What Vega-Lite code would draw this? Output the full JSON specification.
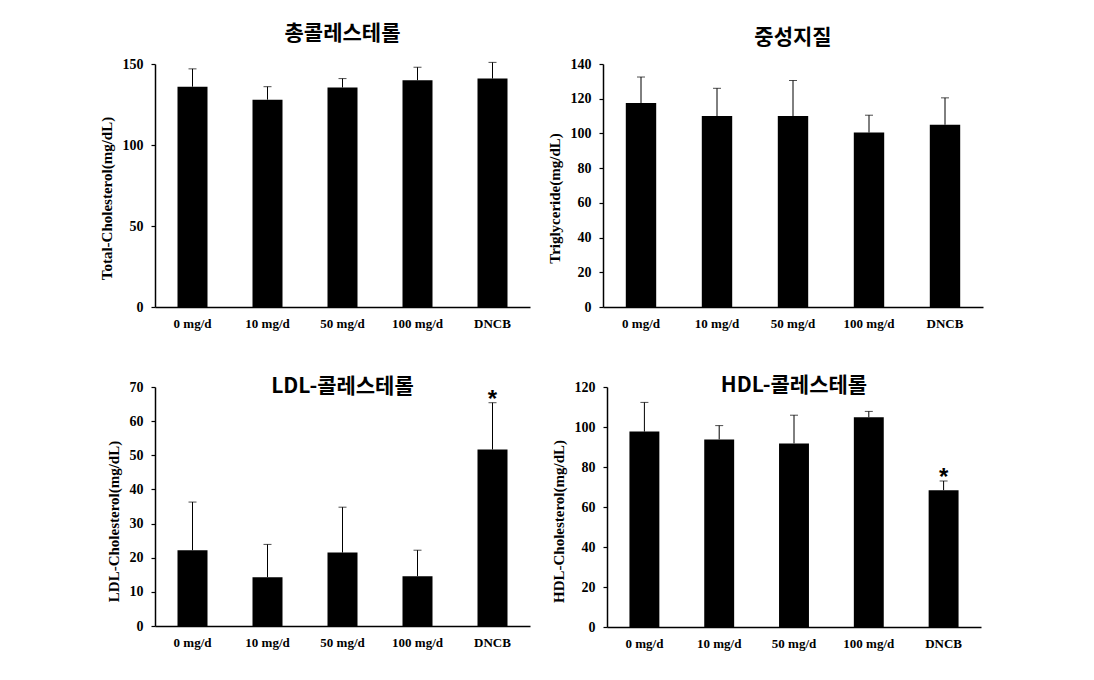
{
  "$schema": "https://vega.github.io/schema/vega-lite/v6.json",
  "padding": {"left": 99, "top": 23, "right": 10, "bottom": 10},
  "background": "white",
  "datasets": {
    "tc": [
      {"group": "0 mg/d", "mean": 136, "upper": 147},
      {"group": "10 mg/d", "mean": 128, "upper": 136},
      {"group": "50 mg/d", "mean": 135.5, "upper": 141},
      {"group": "100 mg/d", "mean": 140, "upper": 148},
      {"group": "DNCB", "mean": 141, "upper": 151}
    ],
    "tg": [
      {"group": "0 mg/d", "mean": 117.5, "upper": 132.5},
      {"group": "10 mg/d", "mean": 110, "upper": 126},
      {"group": "50 mg/d", "mean": 110, "upper": 130.5},
      {"group": "100 mg/d", "mean": 100.5, "upper": 110.5},
      {"group": "DNCB", "mean": 105, "upper": 120.5}
    ],
    "ldl": [
      {"group": "0 mg/d", "mean": 22.2, "upper": 36.3, "star": ""},
      {"group": "10 mg/d", "mean": 14.3, "upper": 23.9, "star": ""},
      {"group": "50 mg/d", "mean": 21.5, "upper": 34.8, "star": ""},
      {"group": "100 mg/d", "mean": 14.6, "upper": 22.2, "star": ""},
      {"group": "DNCB", "mean": 51.7, "upper": 65.4, "star": "*"}
    ],
    "hdl": [
      {"group": "0 mg/d", "mean": 97.7, "upper": 112.3, "star": ""},
      {"group": "10 mg/d", "mean": 93.8, "upper": 100.7, "star": ""},
      {"group": "50 mg/d", "mean": 91.8, "upper": 105.9, "star": ""},
      {"group": "100 mg/d", "mean": 104.9, "upper": 107.8, "star": ""},
      {"group": "DNCB", "mean": 68.4, "upper": 73.0, "star": "*"}
    ]
  },
  "config": {
    "view": {"stroke": null},
    "font": "Liberation Serif",
    "title": {"font": "Noto Sans CJK KR", "fontSize": 21, "fontWeight": "bold", "color": "black", "anchor": "middle"},
    "axis": {
      "domainColor": "black", "domainWidth": 1.5, "grid": false,
      "labelFont": "Liberation Serif", "labelFontWeight": "bold", "labelFontSize": 14, "labelColor": "black",
      "titleFont": "Liberation Serif", "titleFontWeight": "bold", "titleFontSize": 15, "titleColor": "black",
      "tickColor": "black"
    },
    "axisX": {"ticks": false, "labelAngle": 0, "labelPadding": 10, "labelFontSize": 13, "title": null},
    "axisY": {"tickSize": 4, "tickWidth": 1.2, "labelPadding": 8, "titlePadding": 8, "titleY": 134}
  },
  "spacing": 45,
  "vconcat": [
    {
      "spacing": 17,
      "hconcat": [
        {
          "width": 375, "height": 243,
          "title": {"text": "총콜레스테롤", "offset": 13},
          "data": {"name": "tc"},
          "encoding": {
            "x": {"field": "group", "type": "nominal", "sort": null, "scale": {"paddingInner": 0.6, "paddingOuter": 0.3}},
            "y": {"field": "mean", "type": "quantitative", "title": "Total-Cholesterol(mg/dL)", "scale": {"domain": [0, 150], "nice": false}, "axis": {"values": [0, 50, 100, 150]}}
          },
          "layer": [
            {"mark": {"type": "bar", "color": "black"}},
            {"mark": {"type": "rule", "color": "black", "strokeWidth": 1}, "encoding": {"y2": {"field": "upper"}}},
            {"mark": {"type": "tick", "color": "black", "thickness": 1, "size": 8}, "encoding": {"y": {"field": "upper", "type": "quantitative", "title": "Total-Cholesterol(mg/dL)"}}}
          ]
        },
        {
          "width": 380, "height": 243,
          "title": {"text": "중성지질", "offset": 9},
          "data": {"name": "tg"},
          "encoding": {
            "x": {"field": "group", "type": "nominal", "sort": null, "scale": {"paddingInner": 0.6, "paddingOuter": 0.3}},
            "y": {"field": "mean", "type": "quantitative", "title": "Triglyceride(mg/dL)", "scale": {"domain": [0, 140], "nice": false}, "axis": {"values": [0, 20, 40, 60, 80, 100, 120, 140]}}
          },
          "layer": [
            {"mark": {"type": "bar", "color": "black"}},
            {"mark": {"type": "rule", "color": "black", "strokeWidth": 1}, "encoding": {"y2": {"field": "upper"}}},
            {"mark": {"type": "tick", "color": "black", "thickness": 1, "size": 8}, "encoding": {"y": {"field": "upper", "type": "quantitative", "title": "Triglyceride(mg/dL)"}}}
          ]
        }
      ]
    },
    {
      "spacing": 21,
      "hconcat": [
        {
          "width": 375, "height": 239,
          "title": {"text": "LDL-콜레스테롤", "offset": -17},
          "data": {"name": "ldl"},
          "encoding": {
            "x": {"field": "group", "type": "nominal", "sort": null, "scale": {"paddingInner": 0.6, "paddingOuter": 0.3}},
            "y": {"field": "mean", "type": "quantitative", "title": "LDL-Cholesterol(mg/dL)", "scale": {"domain": [0, 70], "nice": false}, "axis": {"values": [0, 10, 20, 30, 40, 50, 60, 70]}}
          },
          "layer": [
            {"mark": {"type": "bar", "color": "black"}},
            {"mark": {"type": "rule", "color": "black", "strokeWidth": 1}, "encoding": {"y2": {"field": "upper"}}},
            {"mark": {"type": "tick", "color": "black", "thickness": 1, "size": 8}, "encoding": {"y": {"field": "upper", "type": "quantitative", "title": "LDL-Cholesterol(mg/dL)"}}},
            {"mark": {"type": "text", "color": "black", "font": "Liberation Sans", "fontWeight": "bold", "fontSize": 24, "baseline": "alphabetic", "dy": 4}, "encoding": {"y": {"field": "upper", "type": "quantitative", "title": "LDL-Cholesterol(mg/dL)"}, "text": {"field": "star"}}}
          ]
        },
        {
          "width": 374, "height": 240,
          "title": {"text": "HDL-콜레스테롤", "offset": -16},
          "data": {"name": "hdl"},
          "encoding": {
            "x": {"field": "group", "type": "nominal", "sort": null, "scale": {"paddingInner": 0.6, "paddingOuter": 0.3}},
            "y": {"field": "mean", "type": "quantitative", "title": "HDL-Cholesterol(mg/dL)", "scale": {"domain": [0, 120], "nice": false}, "axis": {"values": [0, 20, 40, 60, 80, 100, 120]}}
          },
          "layer": [
            {"mark": {"type": "bar", "color": "black"}},
            {"mark": {"type": "rule", "color": "black", "strokeWidth": 1}, "encoding": {"y2": {"field": "upper"}}},
            {"mark": {"type": "tick", "color": "black", "thickness": 1, "size": 8}, "encoding": {"y": {"field": "upper", "type": "quantitative", "title": "HDL-Cholesterol(mg/dL)"}}},
            {"mark": {"type": "text", "color": "black", "font": "Liberation Sans", "fontWeight": "bold", "fontSize": 24, "baseline": "alphabetic", "dy": 4}, "encoding": {"y": {"field": "upper", "type": "quantitative", "title": "HDL-Cholesterol(mg/dL)"}, "text": {"field": "star"}}}
          ]
        }
      ]
    }
  ]
}
